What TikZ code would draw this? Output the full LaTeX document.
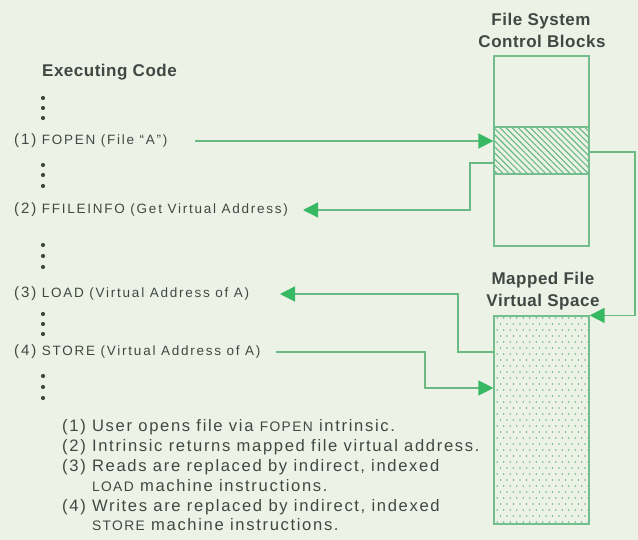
\documentclass[tikz,border=0pt]{standalone}
\usepackage{fontspec}
\setmainfont{Liberation Sans}
\newfontfamily\labfont[LetterSpace=13]{Liberation Sans}
\newfontfamily\notefont[LetterSpace=10]{Liberation Sans}
\newfontfamily\headfont[LetterSpace=3]{Liberation Sans}
\usetikzlibrary{arrows.meta,patterns,patterns.meta}
\definecolor{bg}{RGB}{237,242,231}
\definecolor{ln}{RGB}{105,185,130}
\definecolor{ah}{RGB}{55,185,100}
\definecolor{tx}{RGB}{64,72,67}
\definecolor{bx}{RGB}{115,190,140}
\pgfdeclarepatternformonly{hexdots}{\pgfqpoint{-1pt}{-1pt}}{\pgfqpoint{7.5pt}{13pt}}{\pgfqpoint{6.5pt}{12pt}}{%
  \pgfpathcircle{\pgfqpoint{0pt}{0pt}}{0.85pt}%
  \pgfpathcircle{\pgfqpoint{3.25pt}{6pt}}{0.85pt}%
  \pgfusepath{fill}}
\begin{document}
\begin{tikzpicture}[x=1pt,y=-1pt,
  conn/.style={draw=ln,line width=1.4pt},
  arr/.style={conn,-{Triangle[length=15pt,width=15pt,fill=ah,color=ah]}},
  boxst/.style={draw=bx,line width=1.2pt,minimum width=95pt,inner sep=0pt},
  head/.style={text=tx,inner sep=0pt,font=\headfont\bfseries\fontsize{17}{20}\selectfont},
  lab/.style={text=tx,inner sep=0pt,anchor=west,font=\labfont\fontsize{13.5}{16}\selectfont},
  note/.style={text=tx,inner sep=0pt,anchor=west,font=\notefont\fontsize{16.6}{19}\selectfont},
  dot/.style={fill=tx}
]
\fill[bg] (0,0) rectangle (638,540);
\useasboundingbox (0,0) rectangle (638,540);

% boxes
\node[boxst,minimum height=190pt] (cb) at (541.5,151) {};
\node[boxst,minimum height=47pt,pattern={Lines[angle=-45,distance=4.3pt,line width=1.1pt]},pattern color=ln] (hb) at (541.5,150.5) {};
\node[boxst,minimum height=208pt,pattern=hexdots,pattern color=ln] (mb) at (541.5,420) {};

% titles
\node[head] (t1) at (541,21) {File System};
\node[head] (t2) at (542,41) {Control Blocks};
\node[head] (t3) at (543,280) {Mapped File};
\node[head] (t4) at (543,302) {Virtual Space};
\node[head,anchor=west] (t0) at (42,72) {Executing Code};

% code labels
\node[lab] (c1) at (14,141) {{\fontsize{15}{16}\selectfont(1)} FOPEN (File “A”)};
\node[lab] (c2) at (14,210) {{\fontsize{15}{16}\selectfont(2)} FFILEINFO (Get Virtual Address)};
\node[lab] (c3) at (14,294) {{\fontsize{15}{16}\selectfont(3)} LOAD (Virtual Address of A)};
\node[lab] (c4) at (14,352) {{\fontsize{15}{16}\selectfont(4)} STORE (Virtual Address of A)};

% vertical ellipses
\foreach \y in {98,108,118, 165,175,186, 245,256,267, 314,324,334, 376,387,398}
  \fill[dot] (43,\y) circle (2.1pt);

% notes
\node[note] (n1) at (62,427) {(1) User opens file via {\fontsize{13.8}{19}\selectfont FOPEN} intrinsic.};
\node[note] (n2) at (62,447) {(2) Intrinsic returns mapped file virtual address.};
\node[note] (n3) at (62,467) {(3) Reads are replaced by indirect, indexed};
\node[note] (n4) at (62,487) {\phantom{(3) }{\fontsize{13.8}{19}\selectfont LOAD} machine instructions.};
\node[note] (n5) at (62,507) {(4) Writes are replaced by indirect, indexed};
\node[note] (n6) at (62,526) {\phantom{(4) }{\fontsize{13.8}{19}\selectfont STORE} machine instructions.};

% helper coordinates
\coordinate (s1) at (195,141);
\coordinate (y163) at (0,163);
\coordinate (e2) at (303,210);
\coordinate (y152) at (0,152);
\coordinate (y352) at (0,352);
\coordinate (e4) at (280,294);
\coordinate (s5) at (276,352);
\coordinate (y388) at (0,388);

% connectors
\draw[arr] (s1) -- (cb.west |- s1);
\draw[arr] (hb.west |- y163) -- (470,163) |- (e2);
\draw[arr] (hb.east |- y152) -- (635,152) |- (mb.north east);
\draw[arr] (mb.west |- y352) -- (458,352) |- (e4);
\draw[arr] (s5) -- (425,352) |- (mb.west |- y388);
\end{tikzpicture}
\end{document}
